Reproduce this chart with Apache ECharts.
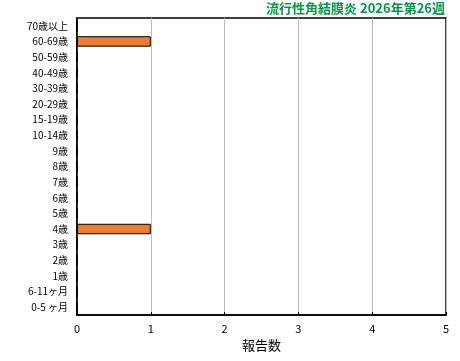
<!DOCTYPE html>
<html>
<head>
<meta charset="utf-8">
<script src="https://cdn.jsdelivr.net/npm/echarts@6/dist/echarts.min.js"></script>
<style>
  html, body { margin: 0; padding: 0; background: #fff; }
  #chart { width: 460px; height: 361px; }
</style>
</head>
<body>
<div id="chart"></div>
<script>
const titleText = '流行性角結膜炎 2026年第26週'
const ageGroups = ['0-5 ヶ月', '6-11ヶ月', '1歳', '2歳', '3歳', '4歳', '5歳', '6歳', '7歳', '8歳', '9歳',
  '10-14歳', '15-19歳', '20-29歳', '30-39歳', '40-49歳', '50-59歳', '60-69歳', '70歳以上']
const reports = [0, 0, 0, 0, 0, 1, 0, 0, 0, 0, 0, 0, 0, 0, 0, 0, 0, 1, 0]
const xMax = 5

const font = '"Noto Sans CJK JP", sans-serif'
const chart = echarts.init(document.getElementById('chart'))

chart.setOption({
  backgroundColor: '#fff',
  animation: false,
  title: {
    text: titleText,
    right: 10,
    top: 0,
    padding: [2, 5, 2, 5],
    textStyle: { color: '#009944', fontSize: 13, fontWeight: 'bold', fontFamily: font }
  },
  grid: {
    left: 77, right: 14, top: 18, bottom: 46,
    show: true, borderColor: '#000', borderWidth: 1.5
  },
  xAxis: {
    type: 'value',
    min: 0, max: xMax, interval: 1,
    name: '報告数',
    nameLocation: 'middle',
    nameGap: 24,
    nameTextStyle: { color: '#000', fontSize: 13, fontFamily: font },
    axisLine: { show: true, lineStyle: { color: '#000', width: 1.5 } },
    axisTick: { show: true, inside: true, length: 3, lineStyle: { color: '#000' } },
    axisLabel: { color: '#000', fontSize: 11, margin: 8, fontFamily: font },
    splitLine: { show: true, lineStyle: { color: '#bbb', width: 1 } }
  },
  yAxis: {
    type: 'category',
    data: ageGroups,
    axisLine: { show: true, lineStyle: { color: '#000', width: 1.5 } },
    axisTick: { show: false },
    axisLabel: { color: '#000', fontSize: 10, margin: 9, fontFamily: font },
    splitLine: { show: false }
  },
  series: [{
    type: 'bar',
    data: reports,
    barCategoryGap: '33%',
    itemStyle: { color: '#ED7D31', borderColor: '#000', borderWidth: 1 }
  }]
})
</script>
</body>
</html>
